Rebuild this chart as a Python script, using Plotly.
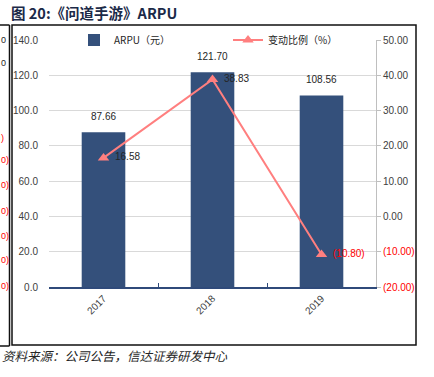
import plotly.graph_objects as go

years = ["2017", "2018", "2019"]
arpu = [87.66, 121.70, 108.56]
change_pct = [16.58, 38.83, -10.80]

left_ticks = [0, 20, 40, 60, 80, 100, 120, 140]
right_ticks = [-20, -10, 0, 10, 20, 30, 40, 50]

# visible fragments of the neighbouring (cropped) chart's labels on the far left
remnant_labels = ["0", "0", ")", "0)", "0)", "0)", "0)", "0)", "0)"]
remnant_colors = ["#262626", "#262626", "#FF0000", "#FF0000", "#FF0000", "#FF0000", "#FF0000", "#FF0000", "#FF0000"]

NUM_FONT = "Liberation Sans, Arial, sans-serif"
CJK_FONT = "Noto Sans CJK SC, sans-serif"

# layout geometry (pixels)
W, H = 434, 377
L, R, T, B = 49, 376, 40, 287


def xp(px):
    return (px - L) / (R - L)


def yp(py):
    return (B - py) / (B - T)


def fmt_pct(v):
    return f"({abs(v):.2f})" if v < 0 else f"{v:.2f}"


fig = go.Figure()

fig.add_trace(go.Bar(
    x=years, y=arpu, name="ARPU（元）",
    marker=dict(color="#34507B", line=dict(width=0)),
    yaxis="y", legend="legend",
))

fig.add_trace(go.Scatter(
    x=years, y=change_pct, name="变动比例（%）",
    mode="lines+markers",
    line=dict(color="#FF7F7F", width=2),
    marker=dict(symbol="triangle-up", size=10, color="#FF7F7F"),
    yaxis="y2", legend="legend2",
))

annotations = []
for i, v in enumerate(arpu):
    annotations.append(dict(
        x=i, y=v, xref="x", yref="y", text=f"{v:.2f}", showarrow=False,
        yshift=16, font=dict(family=NUM_FONT, size=10, color="#262626"),
    ))
for i, v in enumerate(change_pct):
    annotations.append(dict(
        x=i, y=v, xref="x", yref="y2", text=fmt_pct(v), showarrow=False,
        xanchor="left", yanchor="middle", xshift=9, yshift=1,
        font=dict(family=NUM_FONT, size=10, color="#FF0000" if v < 0 else "#262626"),
    ))

# title
annotations.append(dict(
    x=xp(9), y=yp(12), xref="paper", yref="paper", xanchor="left", yanchor="middle",
    text="<b>图 20:《问道手游》ARPU</b>", showarrow=False,
    font=dict(family=CJK_FONT, size=14.5, color="#1B2A48"),
))
# source
annotations.append(dict(
    x=xp(0), y=yp(355), xref="paper", yref="paper", xanchor="left", yanchor="middle",
    text="<i>资料来源：公司公告，信达证券研发中心</i>", showarrow=False,
    font=dict(family=CJK_FONT, size=12.5, color="#262626"),
))

remnant_y = [40, 63, 138, 160, 185, 211, 236, 260, 286]
remnant_x = [6.5, 6.5, 5, 9.5, 9.5, 9.5, 9.5, 9.5, 9.5]
for txt, col, ry, rx in zip(remnant_labels, remnant_colors, remnant_y, remnant_x):
    annotations.append(dict(
        x=xp(rx), y=yp(ry), xref="paper", yref="paper", xanchor="right", yanchor="middle",
        text=txt, showarrow=False, borderpad=0,
        font=dict(family=NUM_FONT, size=9, color=col),
    ))

shapes = [
    # main box
    dict(type="rect", xref="paper", yref="paper", x0=xp(12), x1=xp(416), y0=yp(345), y1=yp(25),
         line=dict(color="#111111", width=1.5)),
    # neighbouring chart border remnants
    dict(type="line", xref="paper", yref="paper", x0=xp(9.5), x1=xp(9.5), y0=yp(346), y1=yp(25),
         line=dict(color="#111111", width=1.5)),
    dict(type="line", xref="paper", yref="paper", x0=xp(-2), x1=xp(9.5), y0=yp(25), y1=yp(25),
         line=dict(color="#111111", width=1.5)),
    dict(type="line", xref="paper", yref="paper", x0=xp(-2), x1=xp(9.5), y0=yp(346), y1=yp(346),
         line=dict(color="#111111", width=1.5)),
]

legend_style = dict(orientation="h", yanchor="middle", xanchor="left",
                    font=dict(family=CJK_FONT, size=10, color="#262626"),
                    bgcolor="rgba(0,0,0,0)")

fig.update_layout(
    width=W, height=H,
    margin=dict(l=L, r=W - R, t=T, b=H - B),
    paper_bgcolor="white", plot_bgcolor="white",
    bargap=0.6,
    showlegend=True,
    legend=dict(x=xp(74), y=1.0, **legend_style),
    legend2=dict(x=xp(228), y=1.0, **legend_style),
    xaxis=dict(type="category", range=[-0.5, 2.5], tickangle=-45, tickson="boundaries",
               ticks="inside", ticklen=4, tickcolor="#2F4A7A",
               showline=True, linecolor="#2F4A7A", linewidth=1.5,
               tickfont=dict(family=NUM_FONT, size=10, color="#404040"),
               showgrid=False),
    yaxis=dict(range=[0, 140], tickvals=left_ticks,
               ticktext=[f"{v:.1f}" for v in left_ticks],
               showgrid=True, gridcolor="#D9D9D9", gridwidth=1,
               zeroline=False, showline=False, ticks="",
               ticklabelstandoff=10,
               tickfont=dict(family=NUM_FONT, size=10, color="#404040")),
    yaxis2=dict(range=[-20, 50], overlaying="y", side="right",
                tickvals=right_ticks,
                ticktext=[f"<span style='color:#FF0000'>{fmt_pct(v)}</span>" if v < 0 else fmt_pct(v)
                          for v in right_ticks],
                showgrid=False, zeroline=False,
                showline=True, linecolor="#BFBFBF", linewidth=1,
                ticks="outside", ticklen=4, tickcolor="#BFBFBF",
                tickfont=dict(family=NUM_FONT, size=10, color="#404040")),
    annotations=annotations,
    shapes=shapes,
)

fig.write_html("out.html", config={"displayModeBar": False},
               post_script="document.body.style.margin='0';document.body.style.overflow='hidden';")
